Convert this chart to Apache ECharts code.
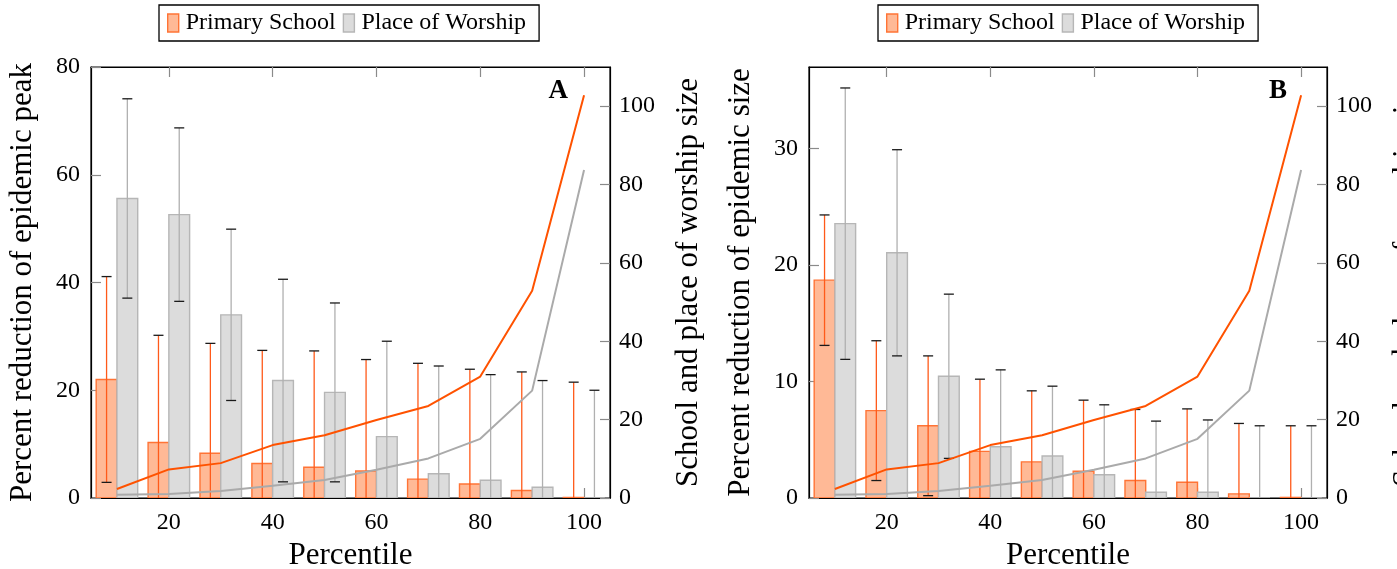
<!DOCTYPE html>
<html><head><meta charset="utf-8">
<script src="https://cdn.jsdelivr.net/npm/echarts@6/dist/echarts.min.js"></script>
<style>html,body{margin:0;padding:0;background:#fff;overflow:hidden}#c{width:1397px;height:569px}</style>
</head><body><div id="c"></div>
<script>
// ---- data ----
const percentiles = [10, 20, 30, 40, 50, 60, 70, 80, 90, 100];
const xTickValues = [20, 40, 60, 80, 100];
const peakTickValues = [0, 20, 40, 60, 80];
const sizeTickValuesB = [0, 10, 20, 30];
const rightTickValues = [0, 20, 40, 60, 80, 100];

// Panel A: percent reduction of epidemic peak (mean, error)
const schoolPeak      = [22.0, 10.3, 8.3, 6.4, 5.7, 5.0, 3.5, 2.6, 1.4, 0.1];
const schoolPeakErr   = [19.1, 19.9, 20.4, 21.0, 21.6, 20.7, 21.5, 21.3, 22.0, 21.4];
const worshipPeak     = [55.6, 52.6, 34.0, 21.8, 19.6, 11.4, 4.5, 3.3, 2.0, 0.0];
const worshipPeakErr  = [18.5, 16.1, 15.9, 18.8, 16.6, 17.7, 20.0, 19.6, 19.8, 20.0];

// Panel B: percent reduction of epidemic size (mean, error)
const schoolSize      = [18.7, 7.5, 6.2, 4.0, 3.1, 2.3, 1.5, 1.35, 0.35, 0.05];
const schoolSizeErr   = [5.6, 6.0, 6.0, 6.2, 6.1, 6.1, 6.1, 6.3, 6.05, 6.15];
const worshipSize     = [23.55, 21.05, 10.45, 4.4, 3.6, 2.0, 0.5, 0.5, 0.0, 0.0];
const worshipSizeErr  = [11.65, 8.85, 7.05, 6.6, 6.0, 6.0, 6.1, 6.2, 6.2, 6.2];

// Right axis: school and place of worship size
const schoolSizeLine  = [2.3, 7.3, 8.9, 13.5, 16.0, 19.9, 23.5, 31.0, 52.9, 102.8];
const worshipSizeLine = [0.8, 1.0, 1.8, 3.1, 4.6, 7.2, 10.1, 15.1, 27.4, 83.7];

// ---- styles ----
const FONT = 'Liberation Serif';
const ORANGE_LINE = '#ff5200';
const ORANGE_FILL = '#ffb996';
const ORANGE_EDGE = '#ff7436';
const ORANGE_ERR = '#ff5a1a';
const GRAY_LINE = '#aaaaaa';
const GRAY_FILL = '#dcdcdc';
const GRAY_EDGE = '#b6b6b6';
const GRAY_ERR = '#b0b0b0';
const CAP = '#1a1a1a';

function triples(xs, v, e) { return xs.map((x, i) => [x, v[i], e[i]]); }
function pairs(xs, v) { return xs.map((x, i) => [x, v[i]]); }

function barRenderer(off0, off1, fill, edge) {
  return function (params, api) {
    const x = api.value(0), v = api.value(1);
    const a = api.coord([x + off0, 0]);
    const b = api.coord([x + off1, v]);
    return {
      type: 'rect',
      shape: { x: a[0], y: b[1], width: b[0] - a[0], height: a[1] - b[1] },
      style: { fill: fill, stroke: edge, lineWidth: 1.4 }
    };
  };
}
function errRenderer(off, lineColor) {
  return function (params, api) {
    const x = api.value(0) + off, v = api.value(1), e = api.value(2);
    const t = api.coord([x, v + e]), b = api.coord([x, v - e]);
    const h = 5;
    return {
      type: 'group',
      children: [
        { type: 'line', shape: { x1: t[0], y1: t[1], x2: b[0], y2: b[1] }, style: { stroke: lineColor, lineWidth: 1.3 } },
        { type: 'line', shape: { x1: t[0] - h, y1: t[1], x2: t[0] + h, y2: t[1] }, style: { stroke: CAP, lineWidth: 1.3 } },
        { type: 'line', shape: { x1: b[0] - h, y1: b[1], x2: b[0] + h, y2: b[1] }, style: { stroke: CAP, lineWidth: 1.3 } }
      ]
    };
  };
}

function panelSeries(p, school, schoolErr, worship, worshipErr) {
  const xi = p * 2, yl = p * 2, yr = p * 2 + 1;
  return [
    { type: 'custom', name: 'Primary School', xAxisIndex: xi, yAxisIndex: yl, clip: true,
      renderItem: barRenderer(-4, 0, ORANGE_FILL, ORANGE_EDGE),
      itemStyle: { color: ORANGE_FILL, borderColor: ORANGE_EDGE },
      encode: { x: 0, y: 1 }, data: triples(percentiles, school, schoolErr), z: 2 },
    { type: 'custom', name: 'Primary School', xAxisIndex: xi, yAxisIndex: yl, clip: true,
      renderItem: errRenderer(-2, ORANGE_ERR),
      encode: { x: 0, y: 1 }, data: triples(percentiles, school, schoolErr), z: 3 },
    { type: 'custom', name: 'Place of Worship', xAxisIndex: xi, yAxisIndex: yl, clip: true,
      renderItem: barRenderer(0, 4, GRAY_FILL, GRAY_EDGE),
      itemStyle: { color: GRAY_FILL, borderColor: GRAY_EDGE },
      encode: { x: 0, y: 1 }, data: triples(percentiles, worship, worshipErr), z: 2 },
    { type: 'custom', name: 'Place of Worship', xAxisIndex: xi, yAxisIndex: yl, clip: true,
      renderItem: errRenderer(2, GRAY_ERR),
      encode: { x: 0, y: 1 }, data: triples(percentiles, worship, worshipErr), z: 3 },
    { type: 'line', name: 'School size', xAxisIndex: xi, yAxisIndex: yr, symbol: 'none',
      lineStyle: { color: ORANGE_LINE, width: 2 }, itemStyle: { color: ORANGE_LINE },
      data: pairs(percentiles, schoolSizeLine), z: 5, silent: true },
    { type: 'line', name: 'Worship size', xAxisIndex: xi, yAxisIndex: yr, symbol: 'none',
      lineStyle: { color: GRAY_LINE, width: 2 }, itemStyle: { color: GRAY_LINE },
      data: pairs(percentiles, worshipSizeLine), z: 4, silent: true }
  ];
}

const tickStyle = { inside: true, length: 10, lineStyle: { color: '#8a8a8a', width: 1.2 } };
const lineAxis = { show: true, onZero: false, lineStyle: { color: '#000', width: 1.2 } };
const labelStyle = { fontFamily: FONT, fontSize: 24, color: '#000' };
const nameStyle = { fontFamily: FONT, fontSize: 31, color: '#000' };

function xAxes(g) {
  return [
    { gridIndex: g, type: 'value', min: 5, max: 105, position: 'bottom',
      axisLine: lineAxis, splitLine: { show: false },
      axisTick: Object.assign({ customValues: xTickValues }, tickStyle),
      axisLabel: Object.assign({ customValues: xTickValues, margin: 13 }, labelStyle),
      name: 'Percentile', nameLocation: 'middle', nameGap: 42, nameTextStyle: nameStyle },
    { gridIndex: g, type: 'value', min: 5, max: 105, position: 'top',
      axisLine: lineAxis, splitLine: { show: false },
      axisTick: Object.assign({ customValues: xTickValues }, tickStyle),
      axisLabel: { show: false } }
  ];
}
function yAxes(g, leftMax, leftTicks, leftName) {
  return [
    { gridIndex: g, type: 'value', min: 0, max: leftMax, position: 'left',
      axisLine: lineAxis, splitLine: { show: false },
      axisTick: Object.assign({ customValues: leftTicks }, tickStyle),
      axisLabel: Object.assign({ customValues: leftTicks, margin: 11 }, labelStyle),
      name: leftName, nameLocation: 'middle', nameGap: 53, nameTextStyle: nameStyle },
    { gridIndex: g, type: 'value', min: 0, max: 110, position: 'right',
      axisLine: lineAxis, splitLine: { show: false },
      axisTick: Object.assign({ customValues: rightTickValues }, tickStyle),
      axisLabel: Object.assign({ customValues: rightTickValues, margin: 9 }, labelStyle),
      name: 'School and place of worship size', nameLocation: 'middle', nameGap: 63, nameTextStyle: nameStyle }
  ];
}

function legend(left) {
  return {
    left: left, top: 5, orient: 'horizontal',
    icon: 'rect', itemWidth: 11, itemHeight: 18, itemGap: 7,
    padding: [6, 13, 6, 8], borderColor: '#000', borderWidth: 1.3, borderRadius: 0,
    textStyle: { fontFamily: FONT, fontSize: 24, color: '#000', padding: [0, 0, 0, 2] },
    selectedMode: false,
    data: [
      { name: 'Primary School', itemStyle: { color: ORANGE_FILL, borderColor: ORANGE_EDGE, borderWidth: 1.4 } },
      { name: 'Place of Worship', itemStyle: { color: GRAY_FILL, borderColor: GRAY_EDGE, borderWidth: 1.4 } }
    ]
  };
}

const chart = echarts.init(document.getElementById('c'), null, { renderer: 'canvas' });
chart.setOption({
  backgroundColor: '#fff',
  animation: false,
  legend: [legend(159), legend(878)],
  grid: [
    { left: 91, top: 67, width: 519, height: 431, outerBoundsMode: 'none', containLabel: false,
      show: true, borderColor: '#000', borderWidth: 1.2, backgroundColor: 'transparent' },
    { left: 809, top: 67, width: 518, height: 431, outerBoundsMode: 'none', containLabel: false,
      show: true, borderColor: '#000', borderWidth: 1.2, backgroundColor: 'transparent' }
  ],
  xAxis: xAxes(0).concat(xAxes(1)),
  yAxis: yAxes(0, 80, peakTickValues, 'Percent reduction of epidemic peak')
    .concat(yAxes(1, 37, sizeTickValuesB, 'Percent reduction of epidemic size')),
  graphic: [
    { type: 'text', x: 568, y: 91, style: { text: 'A', font: 'bold 27px "Liberation Serif"', fill: '#000', textAlign: 'right', textVerticalAlign: 'middle' } },
    { type: 'text', x: 1287, y: 91, style: { text: 'B', font: 'bold 27px "Liberation Serif"', fill: '#000', textAlign: 'right', textVerticalAlign: 'middle' } }
  ],
  series: panelSeries(0, schoolPeak, schoolPeakErr, worshipPeak, worshipPeakErr)
    .concat(panelSeries(1, schoolSize, schoolSizeErr, worshipSize, worshipSizeErr))
});
</script>
</body></html>
